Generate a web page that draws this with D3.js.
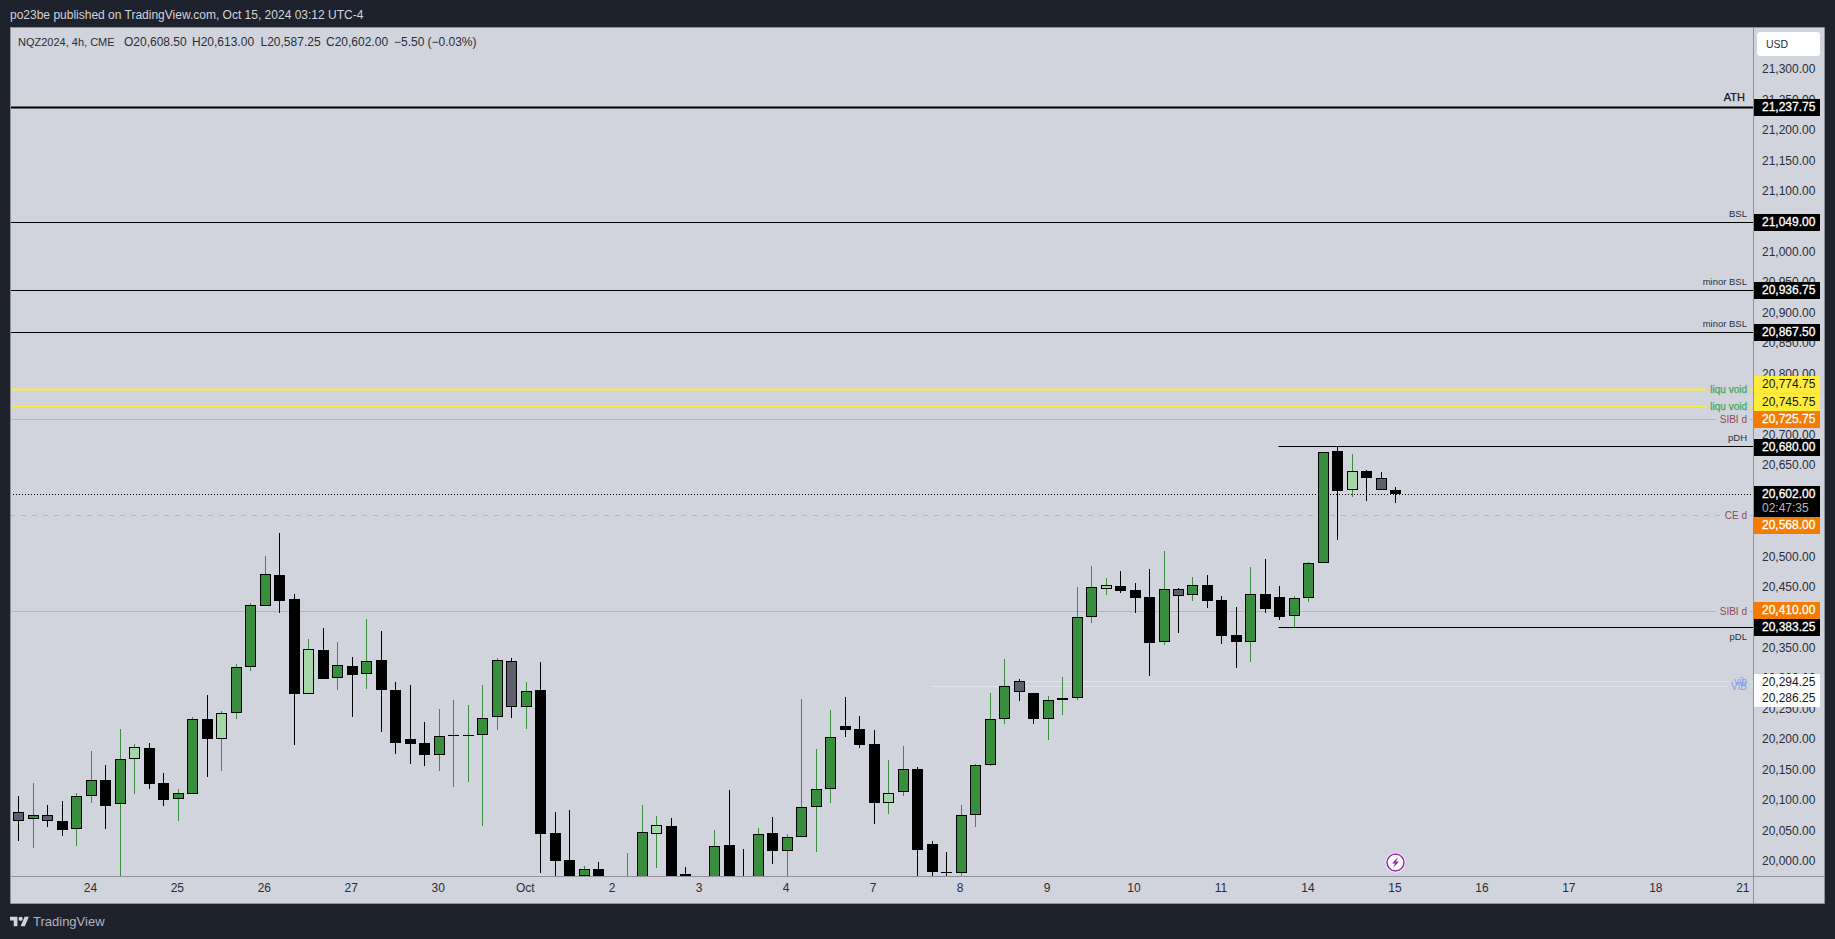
<!DOCTYPE html>
<html>
<head>
<meta charset="utf-8">
<title>NQZ2024</title>
<script src="https://cdnjs.cloudflare.com/ajax/libs/d3/7.8.5/d3.min.js"></script>
<style>
    html, body { margin: 0; padding: 0; background: #1e222d; overflow: hidden; }
    text { font-family: "Liberation Sans", Arial, sans-serif; }
</style>
</head>
<body>
<div id="chart"></div>
<script>
// 4h bars, oldest first. Where a bar runs below the visible pane the hidden part is estimated.
var opens = [20079.5,20068,20074.5,20064.75,20051.5,20105.75,20132,20092.75,20166.5,20184.5,20127,20100.75,20109,20232.25,20200.5,20242,
    20317.5,20417.75,20468.5,20429.25,20274.25,20345.5,20300.5,20319.25,20307.25,20329,20279.75,20199.5,20192.75,20174.25,20205.75,20206,
    20207,20235.5,20327.5,20253,20279.75,20045,20000.75,19975.5,19986,19965,19935,19950,20044.5,20056.5,19977.75,19950,
    19945,20025.5,19960,19950,20045,20016.5,20038.5,20087.75,20117.25,20221.25,20215.75,20191.25,20095.5,20112.5,20150,20027,
    19981,19979.5,20074.5,20156.75,20232.25,20294.5,20275,20232.25,20263.5,20266.75,20399.5,20445.5,20450.5,20444,20432.5,20358.5,
    20445.5,20435.75,20452.25,20427.5,20370,20358.5,20437.5,20432.5,20401.25,20430.75,20488.25,20672,20608,20639.25,20628,20608.5];
var highs = [20106.25,20127,20091.5,20098,20110.75,20179.75,20156.75,20215.75,20191.25,20192.75,20143.5,20117.25,20235.5,20271.5,20245.25,20322.5,
    20422.5,20500.25,20537.5,20437.5,20363.5,20381.5,20358.5,20334,20396.25,20376.5,20293,20288.5,20227.25,20248.5,20264,20255.25,
    20288.5,20332.25,20332.25,20293,20326.25,20080,20083.5,19991.5,19998,19970,20012.25,20091,20073,20069.75,19989.25,19970,
    20050.5,20115.5,20018.75,20053.25,20071.25,20043.5,20265.5,20183.5,20247,20268.25,20237,20214,20165,20188,20153.5,20032,
    20014,20091,20158.25,20275,20330.75,20298,20275,20270,20301,20449,20483.25,20463.5,20475,20455.5,20478.5,20508,
    20447.25,20465.25,20468.5,20434,20416,20481.75,20494.75,20450.5,20434,20490,20671,20680,20667.25,20641,20637.5,20613];
var lows = [20033,20021.5,20056,20041.25,20024.75,20095.5,20052.75,19970,20109.5,20118.5,20090.5,20066,20109,20138,20148,20232.75,
    20312,20417.75,20407.25,20190.5,20274.25,20299,20280.25,20236.5,20282.5,20212,20175.75,20159.5,20156,20148,20121.75,20130,
    20057.5,20215.25,20235,20217,19980.5,19960,19950,19960,19950,19930,19925,19940,19988.75,19955,19940,19925,
    19935,19935,19930,19940,19995.25,19970,20038.5,20015,20095,20203.75,20185.75,20061,20077.25,20107,19970,19975.5,
    19965,19975,20056,20156.25,20225,20262.75,20225,20198.75,20240,20264.5,20391,20436.75,20440,20407.25,20304,20354.75,
    20374.5,20427,20415,20356.5,20317,20327,20407.25,20395.75,20383.25,20425.25,20488.25,20527,20597.75,20591,20608,20587.25];
var closes = [20066,20074.5,20064.75,20051,20105.75,20132,20090.5,20166.5,20186.25,20126.5,20100.25,20110.75,20232.25,20200.5,20242,20317.5,
    20419.25,20470.25,20427,20274.25,20347,20299,20320.75,20305.5,20327.5,20281,20194,20192.25,20174.25,20204.25,20206,20206,
    20233.75,20329,20252,20278.25,20044.5,20000.25,19965,19986,19965,19945,19960,20046.75,20058.25,19965,19950,19935,
    20023.75,19950,19945,20043.5,20016.5,20038.5,20087.75,20117.25,20202.5,20214.75,20190.5,20095.5,20110.75,20150,20018.25,19982,
    19980.75,20074.5,20156.75,20232.25,20286.5,20276.5,20233.25,20263.5,20266.75,20399.5,20449,20452.25,20443.5,20432,20358,20445.5,
    20434,20452.25,20427,20369.5,20359.75,20437.5,20414,20400.75,20430.75,20488.25,20670.5,20607.5,20639.25,20629,20608.5,20602];

// bars the indicator repaints (index into the lists above)
var lightBars = [8,14,20,44,60,75,92];
var greyBars = [0,2,34,69,80,94];

var priceTicks = d3.range(20000, 21301, 50);
var timeTickBars = [5,11,17,23,29,35,41,47,53,59,65,71,77,83,89,95,101,107,113,119];
var timeTickLabels = ["24","25","26","27","30","Oct","2","3","4","7","8","9","10","11","14","15","16","17","18","21"];

var levelPrices = [21237.75,21049,20936.75,20867.5,20774.75,20745.75,20725.75,20680,20568,20410,20383.25,20294.25,20286.25];
var levelNames = ["ATH","BSL","minor BSL","minor BSL","liqu void","liqu void","SIBI d","pDH","CE d","SIBI d","pDL","vib","VIB"];
var levelStartBars = [null,null,null,null,null,null,null,86.9,null,null,86.9,68.6,62.9];

var lastPrice = 20602;
var countdown = "02:47:35";

CandleVis = function(_parentElement) {
    this.parentElement = _parentElement;
    this.bars = opens.map(function(o, i) {
        return {index: i, open: o, high: highs[i], low: lows[i], close: closes[i]};
    });
    this.levels = levelPrices.map(function(p, i) {
        return {price: p, name: levelNames[i], startBar: levelStartBars[i]};
    });

    this.initVis();
};

CandleVis.prototype.initVis = function() {
    var vis = this;

    vis.pane = {left: 10, top: 27, right: 1753, bottom: 876, axisRight: 1824, frameBottom: 903};

    vis.svg = d3.select("#" + vis.parentElement).append("svg")
        .attr("width", 1835)
        .attr("height", 939)
        .style("display", "block");

    vis.x = d3.scaleLinear().domain([0, 119]).range([18.9, 1743.8]);
    vis.y = d3.scaleLinear().domain([20000, 21300]).range([860.8, 68.9]);

    vis.svg.append("rect")
        .attr("x", vis.pane.left)
        .attr("y", vis.pane.top)
        .attr("width", vis.pane.axisRight - vis.pane.left)
        .attr("height", vis.pane.frameBottom - vis.pane.top)
        .attr("fill", "#d1d4dc");

    vis.svg.append("clipPath").attr("id", "pane-clip")
        .append("rect")
        .attr("x", vis.pane.left)
        .attr("y", vis.pane.top)
        .attr("width", vis.pane.right - vis.pane.left)
        .attr("height", vis.pane.bottom - vis.pane.top);

    vis.levelContainer = vis.svg.append("g").attr("clip-path", "url(#pane-clip)");
    vis.barContainer = vis.svg.append("g").attr("clip-path", "url(#pane-clip)");
    vis.axisContainer = vis.svg.append("g");
    vis.chipContainer = vis.svg.append("g");

    vis.updateLevels();
    vis.updateBars();
    vis.updateAxes();
    vis.updateChips();
    vis.drawFurniture();
};

// horizontal levels, snapped to a pixel row
CandleVis.prototype.levelRow = function(price) {
    return Math.floor(this.y(price) + 0.3) + 0.5;
};

CandleVis.prototype.levelStyle = function(d) {
    if (d.name == "ATH") return {color: "#000000", width: 2, label: "#131722", size: 11, place: "above", weight: 0.25};
    if (d.name == "BSL" || d.name == "minor BSL" || d.name == "pDH") return {color: "#000000", width: 1, label: "#2a2e39", size: 9.5, place: "above"};
    if (d.name == "pDL") return {color: "#000000", width: 1, label: "#2a2e39", size: 9.5, place: "below"};
    if (d.name == "liqu void") return {color: "#ffeb3b", width: d.price > 20760 ? 2 : 1, label: "#43a85a", size: 10, place: "inline", weight: 0.25};
    if (d.name == "SIBI d") return {color: "#eda870", width: 1, label: "#8c4a58", size: 10, place: "inline"};
    if (d.name == "CE d") return {color: "#eda870", width: 1, label: "#8c4a58", size: 10, place: "inline", dash: "5,6"};
    return {color: "#e0e3ea", width: 1, label: "#82a0e8", size: 10, place: "inline"};
};

CandleVis.prototype.updateLevels = function() {
    var vis = this;

    vis.levels.forEach(function(d) {
        var style = vis.levelStyle(d);
        var row = vis.levelRow(d.price);
        var textY = row;
        if (style.place == "above") textY = row - (d.name == "ATH" ? 10 : 9);
        if (style.place == "below") textY = row + 9;

        var start = d.startBar === null ? vis.pane.left : vis.x(d.startBar);

        var label = vis.levelContainer.append("text")
            .attr("x", d.name == "ATH" ? 1745 : 1747)
            .attr("y", textY)
            .attr("dy", "0.35em")
            .attr("text-anchor", "end")
            .attr("fill", style.label)
            .attr("stroke", style.weight ? style.label : null)
            .attr("stroke-width", style.weight || null)
            .attr("font-size", style.size)
            .text(d.name);

        var lineEnd = vis.pane.right;
        if (style.place == "inline") {
            lineEnd = label.node().getBBox().x - 4;
            vis.levelContainer.append("line")
                .attr("x1", 1750).attr("x2", vis.pane.right)
                .attr("y1", row).attr("y2", row)
                .attr("stroke", style.color)
                .attr("stroke-width", style.width);
        }

        vis.levelContainer.insert("line", "text")
            .attr("x1", start).attr("x2", lineEnd)
            .attr("y1", row).attr("y2", row)
            .attr("stroke", style.color)
            .attr("stroke-width", style.width)
            .attr("stroke-dasharray", style.dash || null);
    });

    // last price
    vis.levelContainer.append("line")
        .attr("x1", vis.pane.left).attr("x2", vis.pane.right)
        .attr("y1", vis.levelRow(lastPrice)).attr("y2", vis.levelRow(lastPrice))
        .attr("stroke", "#000000")
        .attr("stroke-dasharray", "1,2");
};

CandleVis.prototype.updateBars = function() {
    var vis = this;

    function fillColor(d) {
        if (lightBars.indexOf(d.index) > -1) return "#a5d6a7";
        if (greyBars.indexOf(d.index) > -1) return "#5d606b";
        return d.close >= d.open ? "#388e3c" : "#000000";
    }

    var bar = vis.barContainer.selectAll(".bar")
        .data(vis.bars)
        .enter().append("g")
        .attr("class", "bar")
        .attr("shape-rendering", "crispEdges")
        .attr("transform", function(d) { return "translate(" + Math.floor(vis.x(d.index)) + ",0)"; });

    bar.append("rect")
        .attr("class", "wick")
        .attr("x", 0)
        .attr("width", 1)
        .attr("y", function(d) { return Math.round(vis.y(d.high)); })
        .attr("height", function(d) { return Math.max(1, Math.round(vis.y(d.low)) - Math.round(vis.y(d.high))); })
        .attr("fill", function(d) { return d.close >= d.open ? "#388e3c" : "#000000"; });

    function bodyTop(d) { return Math.round(vis.y(Math.max(d.open, d.close))); }
    function bodyHeight(d) { return Math.max(1, Math.round(vis.y(Math.min(d.open, d.close))) - bodyTop(d)); }

    bar.append("rect")
        .attr("class", "body")
        .attr("x", -5)
        .attr("width", 11)
        .attr("y", bodyTop)
        .attr("height", bodyHeight)
        .attr("fill", "#000000");

    bar.filter(function(d) { return fillColor(d) != "#000000" && bodyHeight(d) > 2; })
        .append("rect")
        .attr("class", "fill")
        .attr("x", -4)
        .attr("width", 9)
        .attr("y", function(d) { return bodyTop(d) + 1; })
        .attr("height", function(d) { return bodyHeight(d) - 2; })
        .attr("fill", fillColor);
};

CandleVis.prototype.updateAxes = function() {
    var vis = this;

    var yAxis = d3.axisRight(vis.y)
        .tickValues(priceTicks)
        .tickSize(0)
        .tickPadding(9)
        .tickFormat(d3.format(",.2f"));

    var xAxis = d3.axisBottom(vis.x)
        .tickValues(timeTickBars)
        .tickSize(0)
        .tickPadding(7)
        .tickFormat(function(d, i) { return timeTickLabels[i]; });

    var yG = vis.axisContainer.append("g")
        .attr("transform", "translate(" + vis.pane.right + ",0)")
        .call(yAxis);

    var xG = vis.axisContainer.append("g")
        .attr("transform", "translate(-1.5," + vis.pane.bottom + ")")
        .call(xAxis);

    yG.select(".domain").remove();
    xG.select(".domain").remove();

    vis.axisContainer.selectAll(".tick text")
        .attr("fill", "#2a2e39")
        .attr("font-size", 12)
        .attr("font-family", "\"Liberation Sans\", Arial, sans-serif");

    // frame and separators
    var frame = "#8f929b";
    var segments = [
        [vis.pane.left, vis.pane.bottom, vis.pane.axisRight, vis.pane.bottom],
        [vis.pane.right, vis.pane.top, vis.pane.right, vis.pane.frameBottom],
        [vis.pane.left, vis.pane.top, vis.pane.axisRight, vis.pane.top],
        [vis.pane.left, vis.pane.frameBottom, vis.pane.axisRight, vis.pane.frameBottom],
        [vis.pane.left, vis.pane.top, vis.pane.left, vis.pane.frameBottom],
        [vis.pane.axisRight, vis.pane.top, vis.pane.axisRight, vis.pane.frameBottom]
    ];

    vis.axisContainer.selectAll(".frame")
        .data(segments)
        .enter().append("line")
        .attr("class", "frame")
        .attr("x1", function(d) { return d[0] + 0.5; })
        .attr("y1", function(d) { return d[1] + 0.5; })
        .attr("x2", function(d) { return d[2] + 0.5; })
        .attr("y2", function(d) { return d[3] + 0.5; })
        .attr("stroke", frame);
};

CandleVis.prototype.updateChips = function() {
    var vis = this;

    // price scale tags; crowded ones get pushed off their level
    var shifts = {"20774.75": -5, "20745.75": -5, "20568": 10, "20410": -1, "20286.25": 12};

    function chipColors(d) {
        if (d.name == "liqu void") return {bg: "#ffeb3b", fg: "#131722"};
        if (d.name == "SIBI d" || d.name == "CE d") return {bg: "#f57c00", fg: "#ffffff", weight: 0.3};
        if (d.name == "vib" || d.name == "VIB") return {bg: "#ffffff", fg: "#131722"};
        return {bg: "#000000", fg: "#ffffff", weight: 0.3};
    }

    vis.levels.forEach(function(d) {
        var centre = Math.round(vis.y(d.price) + (shifts[d.price] || 0));
        var colors = chipColors(d);

        vis.chipContainer.append("rect")
            .attr("x", vis.pane.right + 1)
            .attr("y", centre - 8)
            .attr("width", 66)
            .attr("height", 17)
            .attr("fill", colors.bg);

        vis.chipContainer.append("text")
            .attr("x", vis.pane.right + 9)
            .attr("y", centre)
            .attr("dy", "0.35em")
            .attr("fill", colors.fg)
            .attr("stroke", colors.weight ? colors.fg : null)
            .attr("stroke-width", colors.weight || null)
            .attr("font-size", 12)
            .text(d3.format(",.2f")(d.price));
    });

    var lastY = Math.round(vis.y(lastPrice));

    vis.chipContainer.append("rect")
        .attr("x", vis.pane.right + 1)
        .attr("y", lastY - 8)
        .attr("width", 66)
        .attr("height", 31)
        .attr("fill", "#000000");

    vis.chipContainer.append("text")
        .attr("x", vis.pane.right + 9)
        .attr("y", lastY)
        .attr("dy", "0.35em")
        .attr("fill", "#ffffff")
        .attr("stroke", "#ffffff")
        .attr("stroke-width", 0.3)
        .attr("font-size", 12)
        .text(d3.format(",.2f")(lastPrice));

    vis.chipContainer.append("text")
        .attr("x", vis.pane.right + 9)
        .attr("y", lastY + 14)
        .attr("dy", "0.35em")
        .attr("fill", "#b2b5be")
        .attr("font-size", 12)
        .text(countdown);
};

CandleVis.prototype.drawFurniture = function() {
    var vis = this;

    vis.svg.append("rect")
        .attr("x", 1757).attr("y", 32)
        .attr("width", 63).attr("height", 24)
        .attr("rx", 3)
        .attr("fill", "#ffffff");

    vis.svg.append("text")
        .attr("x", 1766).attr("y", 44.5)
        .attr("dy", "0.35em")
        .attr("fill", "#2a2e39")
        .attr("font-size", 10.5)
        .text("USD");

    vis.svg.append("text")
        .attr("x", 10).attr("y", 15)
        .attr("dy", "0.35em")
        .attr("fill", "#d1d4dc")
        .attr("font-size", 12)
        .text("po23be published on TradingView.com, Oct 15, 2024 03:12 UTC-4");

    var legend = [
        [18, "NQZ2024, 4h, CME", 11], [124, "O20,608.50", 12], [192, "H20,613.00", 12], [260.5, "L20,587.25", 12],
        [326, "C20,602.00", 12], [394, "\u22125.50", 12], [427.5, "(\u22120.03%)", 12]
    ];

    vis.svg.selectAll(".legend")
        .data(legend)
        .enter().append("text")
        .attr("class", "legend")
        .attr("x", function(d) { return d[0]; })
        .attr("y", 42)
        .attr("dy", "0.35em")
        .attr("fill", "#2a2e39")
        .attr("font-size", function(d) { return d[2]; })
        .text(function(d) { return d[1]; });

    // lightning badge
    var badge = vis.svg.append("g").attr("transform", "translate(1395.5,862.5)");

    badge.append("circle")
        .attr("r", 10)
        .attr("fill", "#ffffff");

    badge.append("circle")
        .attr("r", 8.5)
        .attr("fill", "#ffffff")
        .attr("stroke", "#9c27b0")
        .attr("stroke-width", 1.5);

    badge.append("path")
        .attr("d", "M2.5,-5.5 L-3.5,1 L-0.5,1 L-2.5,5.5 L3.5,-1 L0.5,-1 Z")
        .attr("fill", "#9c27b0");

    // footer logo
    var logo = vis.svg.append("g")
        .attr("transform", "translate(10,914.6) scale(0.53)")
        .attr("fill", "#d1d4dc");

    logo.append("path").attr("d", "M14 22H7V11H0V4h14v18zM28 22h-8l7.5-18h8L28 22z");
    logo.append("circle").attr("cx", 20).attr("cy", 8).attr("r", 4);

    vis.svg.append("text")
        .attr("x", 33).attr("y", 921.5)
        .attr("dy", "0.35em")
        .attr("fill", "#b2b5be")
        .attr("font-size", 13)
        .text("TradingView");
};

var candleVis = new CandleVis("chart");
</script>
</body>
</html>
